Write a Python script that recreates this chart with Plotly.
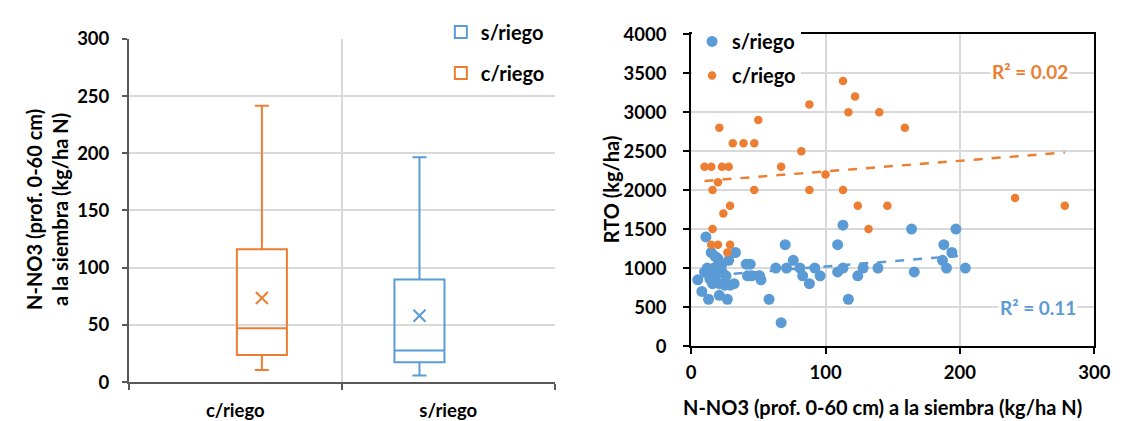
import numpy as np
import plotly.graph_objects as go

# ---------------- data ----------------
# Box plot (left): N-NO3 at sowing, by irrigation
BOX_CATEGORIES = ["c/riego", "s/riego"]
BOX_SERIES = ["s/riego", "c/riego"]          # legend order
BOX_LOWER = {"s/riego": 5.8, "c/riego": 10.5}
BOX_Q1 = {"s/riego": 17.4, "c/riego": 23.7}
BOX_MEDIAN = {"s/riego": 27.6, "c/riego": 47.0}
BOX_Q3 = {"s/riego": 89.7, "c/riego": 116.0}
BOX_UPPER = {"s/riego": 196.6, "c/riego": 241.5}
BOX_MEAN = {"s/riego": 58.0, "c/riego": 73.5}
BOX_Y_TICKS = [0, 50, 100, 150, 200, 250, 300]

# Scatter (right): yield vs N-NO3
S_RIEGO_X = [113, 164, 197, 11, 70, 109, 188, 194, 33, 15, 18, 187, 190, 204, 28, 41, 44, 63, 71, 76,
             81, 92, 83, 88, 96, 109, 113, 124, 128, 139, 117, 166, 42, 45, 51, 52, 58, 67, 5, 8,
             13, 21, 27, 32, 10, 15, 19, 23, 26, 16, 21, 25, 29, 19, 23, 18, 13, 20, 14, 12, 17, 22]
S_RIEGO_Y = [1550, 1500, 1500, 1400, 1300, 1300, 1300, 1200, 1200, 1200, 1150, 1100, 1000, 1000, 1100, 1050, 1050, 1000, 1000, 1100,
             1000, 1000, 900, 800, 900, 950, 1000, 900, 1000, 1000, 600, 950, 900, 900, 900, 850, 600, 300, 850, 700,
             600, 650, 600, 800, 950, 900, 920, 950, 900, 800, 800, 780, 780, 1020, 1050, 960, 940, 1120, 860, 1000, 1000, 1000]
C_RIEGO_X = [113, 122, 117, 140, 88, 159, 21, 50, 31, 39, 47, 82, 10, 15, 23, 28, 67, 100, 20, 16,
             47, 88, 113, 241, 29, 124, 146, 278, 24, 132, 16, 15, 20, 29, 27]
C_RIEGO_Y = [3400, 3200, 3000, 3000, 3100, 2800, 2800, 2900, 2600, 2600, 2600, 2500, 2300, 2300, 2300, 2300, 2300, 2200, 2100, 2000,
             2000, 2000, 2000, 1900, 1800, 1800, 1800, 1800, 1700, 1500, 1500, 1300, 1300, 1300, 1200]
R2_LABELS = {"s/riego": "R² = 0.11", "c/riego": "R² = 0.02"}
SC_X_TICKS = [0, 100, 200, 300]
SC_Y_TICKS = [0, 500, 1000, 1500, 2000, 2500, 3000, 3500, 4000]

# ---------------- style ----------------
COLORS = {"s/riego": "#5B9BD5", "c/riego": "#ED7D31"}
BOX_OFFSET = {"s/riego": -0.135, "c/riego": 0.125}
FONT = "Lato"
GRID = "#D9D9D9"
W, H = 1123, 421

def px_x(p):
    return p / W

def px_y(p):
    return 1 - p / H

fig = go.Figure()

# ---- left: box plots ----
for s in BOX_SERIES:
    idx = BOX_CATEGORIES.index(s)
    pos = idx + BOX_OFFSET[s]
    fig.add_trace(go.Box(
        name=s, x=[pos], q1=[BOX_Q1[s]], median=[BOX_MEDIAN[s]], q3=[BOX_Q3[s]],
        lowerfence=[BOX_LOWER[s]], upperfence=[BOX_UPPER[s]],
        width=0.235, whiskerwidth=0.28, boxpoints=False,
        line=dict(color=COLORS[s], width=2), fillcolor="rgba(255,255,255,0)",
        xaxis="x", yaxis="y", legend="legend", legendgroup="b" + s, hoverinfo="skip",
    ))
    fig.add_trace(go.Scatter(
        x=[pos], y=[BOX_MEAN[s]], mode="markers", showlegend=False,
        marker=dict(symbol="x-thin-open", size=12, color=COLORS[s],
                    line=dict(color=COLORS[s], width=2)),
        xaxis="x", yaxis="y", hoverinfo="skip",
    ))

# ---- right: scatter with trendlines ----
series = [("s/riego", S_RIEGO_X, S_RIEGO_Y, 11), ("c/riego", C_RIEGO_X, C_RIEGO_Y, 8.5)]
for s, xs, ys, _ in series:
    xs_a, ys_a = np.array(xs, float), np.array(ys, float)
    k, b = np.polyfit(xs_a, ys_a, 1)
    xl = np.array([xs_a.min(), xs_a.max()])
    fig.add_trace(go.Scatter(
        x=xl, y=k * xl + b, mode="lines", showlegend=False,
        line=dict(color=COLORS[s], width=2.5, dash="dash"),
        xaxis="x2", yaxis="y2", hoverinfo="skip",
    ))
for s, xs, ys, size in series:
    fig.add_trace(go.Scatter(
        x=xs, y=ys, mode="markers", name=s,
        marker=dict(color=COLORS[s], size=size, line=dict(width=0)),
        xaxis="x2", yaxis="y2", legend="legend2", legendgroup="s" + s,
    ))

# ---------------- layout ----------------
tickfont = dict(family=FONT, size=18.5, color="black", weight="bold")
fig.update_layout(
    width=W, height=H, margin=dict(l=0, r=0, t=0, b=0),
    paper_bgcolor="white", plot_bgcolor="white",
    font=dict(family=FONT, size=18, color="black", weight="bold"),
    xaxis=dict(
        domain=[px_x(118), px_x(552)], range=[-0.5, 1.5],
        tickvals=[0, 1], ticktext=BOX_CATEGORIES, ticks="", showgrid=False,
        minor=dict(tickvals=[-0.5, 0.5, 1.5], ticks="outside", ticklen=6, tickcolor="#595959",
                   tickwidth=1.5, showgrid=True, gridcolor=GRID, gridwidth=1.5),
        showline=True, linecolor="#595959", linewidth=1.5, zeroline=False,
        tickfont=tickfont, ticklabelstandoff=11, fixedrange=True,
    ),
    yaxis=dict(
        domain=[px_y(382), px_y(20)], range=[0, 300], tickvals=BOX_Y_TICKS,
        ticks="outside", ticklen=5, tickcolor="#595959", tickwidth=1.5,
        showline=True, linecolor="#595959", linewidth=1.5,
        showgrid=True, gridcolor=GRID, gridwidth=1.5, zeroline=False,
        tickfont=tickfont, ticklabelstandoff=9, anchor="x",
    ),
    xaxis2=dict(
        domain=[px_x(691), px_x(1102)], range=[0, 300], tickvals=SC_X_TICKS,
        ticks="outside", ticklen=6, tickcolor="black", tickwidth=2,
        showline=True, linecolor="black", linewidth=2, mirror=True,
        showgrid=True, gridcolor=GRID, gridwidth=1.5, zeroline=False,
        tickfont=tickfont, ticklabelstandoff=3, anchor="y2",
    ),
    yaxis2=dict(
        domain=[px_y(344), px_y(15)], range=[0, 4000], tickvals=SC_Y_TICKS,
        ticks="outside", ticklen=6, tickcolor="black", tickwidth=2,
        showline=True, linecolor="black", linewidth=2, mirror=True,
        showgrid=True, gridcolor=GRID, gridwidth=1.5, zeroline=False,
        tickfont=tickfont, ticklabelstandoff=13, anchor="x2",
    ),
    legend=dict(
        x=px_x(436), y=px_y(-8), xanchor="left", yanchor="top",
        bgcolor="white", font=dict(family=FONT, size=20, color="black", weight="bold"),
        tracegroupgap=12, itemclick=False, itemdoubleclick=False,
    ),
    legend2=dict(
        x=px_x(692), y=px_y(2), xanchor="left", yanchor="top",
        bgcolor="white", font=dict(family=FONT, size=20, color="black", weight="bold"),
        tracegroupgap=5, itemclick=False, itemdoubleclick=False,
    ),
    showlegend=True,
)

annos = [
    dict(text="N-NO3 (prof. 0-60 cm)<br>a la siembra (kg/ha N)", x=px_x(34), y=px_y(200),
         textangle=-90),
    dict(text="RTO (kg/ha)", x=px_x(609), y=px_y(179), textangle=-90),
    dict(text="N-NO3 (prof. 0-60 cm) a la siembra (kg/ha N)", x=px_x(886), y=px_y(408)),
]
for a in annos:
    fig.add_annotation(xref="paper", yref="paper", showarrow=False, xanchor="center",
                       yanchor="middle", font=dict(family=FONT, size=20, color="black", weight="bold"), **a)

fig.add_annotation(xref="paper", yref="paper", x=px_x(1036), y=px_y(54), showarrow=False,
                   xanchor="center", yanchor="middle", text=R2_LABELS["c/riego"], bgcolor="white",
                   font=dict(family=FONT, size=19, color=COLORS["c/riego"], weight="bold"))
fig.add_annotation(xref="paper", yref="paper", x=px_x(1045), y=px_y(303), showarrow=False,
                   xanchor="center", yanchor="middle", text=R2_LABELS["s/riego"], bgcolor="white",
                   font=dict(family=FONT, size=19, color=COLORS["s/riego"], weight="bold"))

fig.write_html("out.html")
